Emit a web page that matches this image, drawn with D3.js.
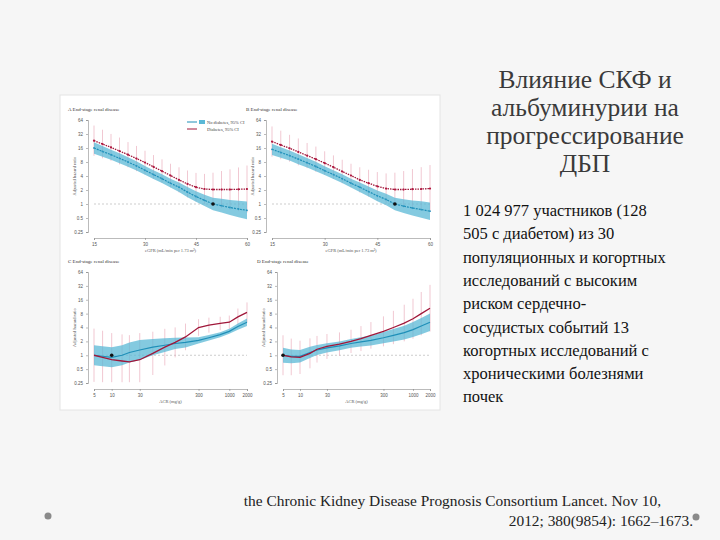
<!DOCTYPE html>
<html><head><meta charset="utf-8">
<script src="https://cdn.jsdelivr.net/npm/d3@7"></script>
<style>body{margin:0;background:#f6f6f6}svg{display:block}</style>
</head><body>
<svg id="s" width="720" height="540"></svg>
<script>
// ---- data ----
const egfr = [15,17.5,20,22.5,25,27.5,30,32.5,35,37.5,40,42.5,45,47.5,50,52.5,55,57.5,60];
const A_blue = [16,13.5,11.5,9.6,8,6.6,5.3,4.3,3.5,2.8,2.3,1.8,1.45,1.2,1.0,0.92,0.84,0.78,0.73];
const A_red  = [23,19.5,16.5,13.8,11.5,9.5,7.8,6.3,5.1,4.1,3.3,2.7,2.3,2.1,2.05,2.05,2.05,2.07,2.1];
const A_ci   = [0.9,0.85,0.8,0.8,0.75,0.75,0.7,0.7,0.7,0.7,0.75,0.8,0.85,0.9,1,1.1,1.2,1.3,1.4];
const B_blue = [15,12.8,11,9.2,7.7,6.4,5.2,4.3,3.5,2.8,2.3,1.85,1.5,1.25,1.0,0.9,0.82,0.76,0.7];
const B_red  = [22,18.6,15.8,13.2,11,9.2,7.6,6.2,5,4.1,3.3,2.8,2.4,2.15,2.05,2.05,2.08,2.1,2.15];
const acr = [5,7,10,15,20,30,50,80,120,180,300,450,700,1000,1400,2000];
const C_blue = [1.0,0.95,0.9,1.0,1.15,1.3,1.5,1.65,1.8,1.9,2.1,2.4,2.8,3.3,4.2,5.2];
const C_red  = [1.0,0.9,0.8,0.75,0.72,0.8,1.1,1.5,1.9,2.5,4,4.5,4.9,5.2,6.8,8.5];
const C_ci   = [1.6,1.6,1.6,1.6,1.6,1.6,1.3,1.1,0.9,0.8,0.5,0.45,0.4,0.4,0.5,0.6];
const D_blue = [1.0,0.95,0.95,1.15,1.3,1.45,1.6,1.8,1.95,2.1,2.4,2.7,3.1,3.6,4.3,5.2];
const D_red  = [1.0,0.92,0.9,1.1,1.35,1.55,1.75,2.0,2.3,2.7,3.3,4,5,6.2,8,10.5];
const D_ci   = [1.2,1.1,1.0,0.9,0.8,0.75,0.7,0.7,0.75,0.8,0.9,1,1.1,1.2,1.3,1.4];
const yTicks = [64,32,16,8,4,2,1,0.5,0.25];
const egfrTicks = [15,30,45,60];
const acrTicks = [5,10,30,300,1000,2000];
const titleLines = ["Влияние СКФ и","альбуминурии на","прогрессирование","ДБП"];
const bodyLines = ["1 024 977 участников (128","505 с диабетом) из 30","популяционных и когортных","исследований с высоким","риском сердечно-","сосудистых событий 13","когортных исследований с","хроническими болезнями","почек"];
const citeLines = ["the Chronic Kidney Disease Prognosis Consortium Lancet. Nov 10,","2012; 380(9854): 1662–1673."];

const svg = d3.select("#s");
svg.append("rect").attr("x",60).attr("y",95).attr("width",380).attr("height",315).attr("fill","#fff").attr("stroke","#e4e4e4");

function panel(o){
  const g = svg.append("g");
  const x = (o.log? d3.scaleLog(): d3.scaleLinear()).domain(o.xd).range([o.x0,o.x1]);
  const y = d3.scaleLog().base(2).domain([0.25,64]).range([o.y1,o.y0]);
  g.append("text").attr("x",o.x0-26).attr("y",o.y0-9).attr("font-size",5).attr("font-family","Liberation Serif").attr("fill","#333").text(o.title);
  g.append("g").attr("transform",`translate(${o.x0-6},0)`).call(d3.axisLeft(y).tickValues(yTicks).tickFormat(d=>d).tickSize(2))
   .call(a=>{a.selectAll("text").attr("font-size",4.5).attr("fill","#555");a.selectAll("path,line").attr("stroke","#777").attr("stroke-width",0.5);});
  g.append("g").attr("transform",`translate(0,${o.y1+6})`).call(d3.axisBottom(x).tickValues(o.ticks).tickFormat(d=>d).tickSize(2))
   .call(a=>{a.selectAll("text").attr("font-size",4.5).attr("fill","#555");a.selectAll("path,line").attr("stroke","#777").attr("stroke-width",0.5);});
  g.append("text").attr("x",(o.x0+o.x1)/2).attr("y",o.y1+20).attr("text-anchor","middle").attr("font-size",4.5).attr("fill","#555").text(o.xlabel);
  g.append("text").attr("transform",`translate(${o.x0-18},${(o.y0+o.y1)/2}) rotate(-90)`).attr("text-anchor","middle").attr("font-size",4.5).attr("fill","#555").text("Adjusted hazard ratio");
  g.append("line").attr("x1",o.x0).attr("x2",o.x1).attr("y1",y(1)).attr("y2",y(1)).attr("stroke","#999").attr("stroke-width",0.5).attr("stroke-dasharray","2,2");
  const xs=o.xs;
  xs.forEach((v,i)=>{const lo=o.red[i]/Math.pow(2,o.ci[i]*1.2), hi=o.red[i]*Math.pow(2,o.ci[i]*1.2);
    g.append("line").attr("x1",x(v)).attr("x2",x(v)).attr("y1",y(Math.max(lo,0.26))).attr("y2",y(Math.min(hi,60))).attr("stroke","#e8a3b3").attr("stroke-width",0.6);});
  g.append("path").datum(xs.map((v,i)=>i)).attr("fill","#5bb8d6").attr("opacity",0.75)
   .attr("d",d3.area().x(i=>x(xs[i])).y0(i=>y(o.blue[i]/Math.pow(2,o.ci[i]*0.45))).y1(i=>y(o.blue[i]*Math.pow(2,o.ci[i]*0.45))));
  const ln=d3.line().x((d,i)=>x(xs[i])).y(d=>y(d));
  g.append("path").datum(o.blue).attr("d",ln).attr("fill","none").attr("stroke","#1f8fb8").attr("stroke-width",1.2).attr("stroke-dasharray",o.log?null:"2,1");
  g.append("path").datum(o.red).attr("d",ln).attr("fill","none").attr("stroke","#a0173a").attr("stroke-width",1.3).attr("stroke-dasharray",o.log?null:"1.5,1");
  if(!o.log){
    g.selectAll(null).data(o.red).join("circle").attr("cx",(d,i)=>x(xs[i])).attr("cy",d=>y(d)).attr("r",1.1).attr("fill","#b01840");
    g.selectAll(null).data(o.blue).join("circle").attr("cx",(d,i)=>x(xs[i])).attr("cy",d=>y(d)).attr("r",0.9).attr("fill","#2a98c2");
  }
  g.append("circle").attr("cx",x(o.ref)).attr("cy",y(1)).attr("r",1.8).attr("fill","#111");
  if(o.legend){
    const lx=o.x1-60, ly=o.y0+2;
    [["No diabetes, 95% CI","#1f8fb8"],["Diabetes, 95% CI","#a0173a"]].forEach((l,i)=>{
      g.append("line").attr("x1",lx).attr("x2",lx+10).attr("y1",ly+i*7).attr("y2",ly+i*7).attr("stroke",l[1]).attr("stroke-width",1);
      if(i==0) g.append("rect").attr("x",lx+12).attr("y",ly-2).attr("width",6).attr("height",4).attr("fill","#5bb8d6");
      g.append("text").attr("x",lx+20).attr("y",ly+i*7+1.8).attr("font-size",4.5).attr("fill","#444").text(l[0]);
    });
  }
}
panel({title:"A  End-stage renal disease",x0:94,x1:247,y0:120,y1:232,xd:[15,60],ticks:egfrTicks,xs:egfr,blue:A_blue,red:A_red,ci:A_ci,ref:50,log:false,legend:true,xlabel:"eGFR (mL/min per 1.73 m²)"});
panel({title:"B  End-stage renal disease",x0:272,x1:430,y0:120,y1:232,xd:[15,60],ticks:egfrTicks,xs:egfr,blue:B_blue,red:B_red,ci:A_ci,ref:50,log:false,xlabel:"eGFR (mL/min per 1.73 m²)"});
panel({title:"C  End-stage renal disease",x0:94,x1:247,y0:272,y1:383,xd:[5,2000],ticks:acrTicks,xs:acr,blue:C_blue,red:C_red,ci:C_ci,ref:10,log:true,xlabel:"ACR (mg/g)"});
panel({title:"D  End-stage renal disease",x0:283,x1:430,y0:272,y1:383,xd:[5,2000],ticks:acrTicks,xs:acr,blue:D_blue,red:D_red,ci:D_ci,ref:5,log:true,xlabel:"ACR (mg/g)"});

titleLines.forEach((t,i)=>svg.append("text").attr("x",585).attr("y",88+i*28).attr("text-anchor","middle").attr("font-family","Liberation Serif").attr("font-size",25.5).attr("fill","#3a3a3a").text(t));
bodyLines.forEach((t,i)=>svg.append("text").attr("x",463).attr("y",216+i*23.3).attr("font-family","Liberation Serif").attr("font-size",16.5).attr("fill","#111").text(t));
svg.append("text").attr("x",661).attr("y",506).attr("text-anchor","end").attr("font-family","Liberation Serif").attr("font-size",15.4).attr("fill","#222").text(citeLines[0]);
svg.append("text").attr("x",693).attr("y",526).attr("text-anchor","end").attr("font-family","Liberation Serif").attr("font-size",15.4).attr("fill","#222").text(citeLines[1]);
[[48,516],[696,517]].forEach(p=>svg.append("circle").attr("cx",p[0]).attr("cy",p[1]).attr("r",3.5).attr("fill","#8a8a8a"));
</script></body></html>
